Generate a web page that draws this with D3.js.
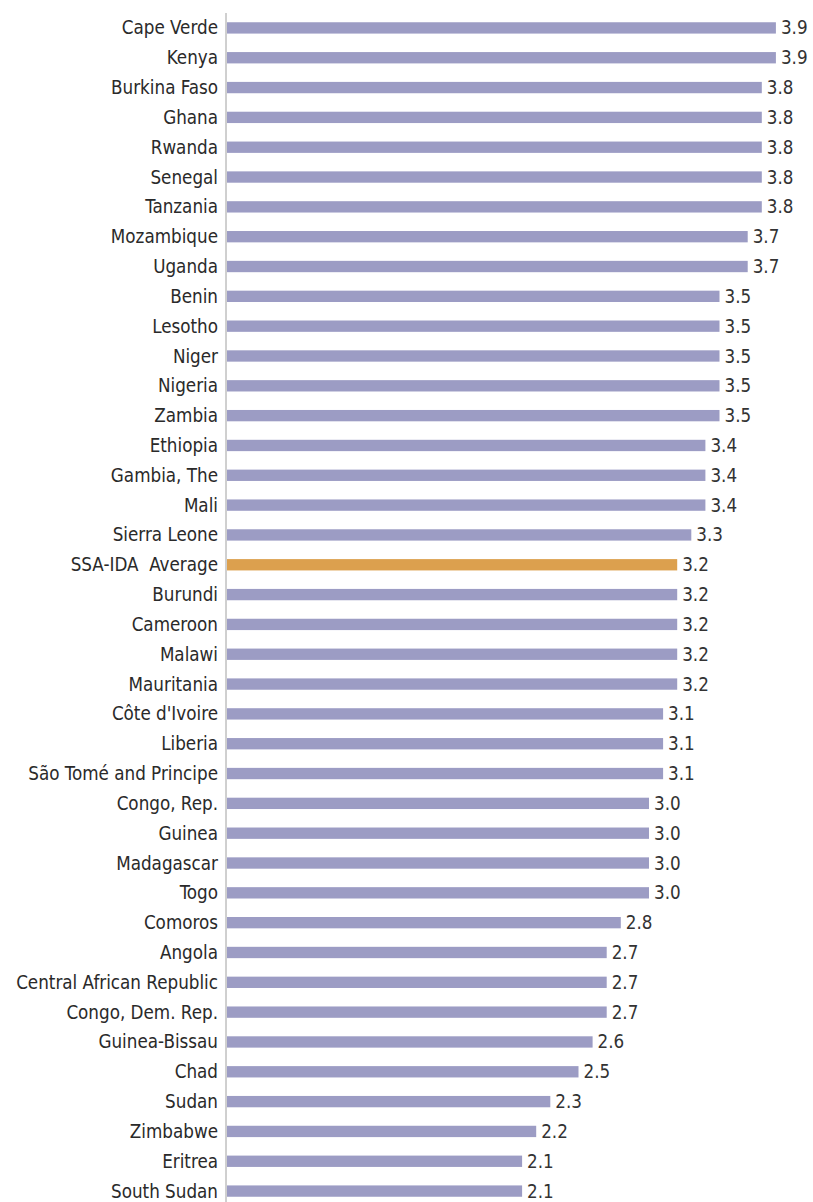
<!DOCTYPE html>
<html><head><meta charset="utf-8">
<script src="https://cdn.jsdelivr.net/npm/d3@7"></script>
<style>
html,body{margin:0;padding:0;background:#fff;}
text{font-family:"Liberation Sans Narrow","DejaVu Sans Condensed",sans-serif;white-space:pre;}
</style></head>
<body>
<svg id="chart" width="813" height="1202"></svg>
<script>
const categories = ["Cape Verde","Kenya","Burkina Faso","Ghana","Rwanda","Senegal","Tanzania","Mozambique","Uganda","Benin","Lesotho","Niger","Nigeria","Zambia","Ethiopia","Gambia, The","Mali","Sierra Leone","SSA-IDA  Average","Burundi","Cameroon","Malawi","Mauritania","Côte d'Ivoire","Liberia","São Tomé and Principe","Congo, Rep.","Guinea","Madagascar","Togo","Comoros","Angola","Central African Republic","Congo, Dem. Rep.","Guinea-Bissau","Chad","Sudan","Zimbabwe","Eritrea","South Sudan"];
const values = [3.9,3.9,3.8,3.8,3.8,3.8,3.8,3.7,3.7,3.5,3.5,3.5,3.5,3.5,3.4,3.4,3.4,3.3,3.2,3.2,3.2,3.2,3.2,3.1,3.1,3.1,3.0,3.0,3.0,3.0,2.8,2.7,2.7,2.7,2.6,2.5,2.3,2.2,2.1,2.1];
const highlight = "SSA-IDA  Average";

const svg = d3.select("#chart");
const x0 = 226;
const x = d3.scaleLinear().domain([0, 3.9]).range([x0, x0 + 141 * 3.9]);
const y = d3.scaleBand().domain(categories).range([13, 1206]).paddingInner(0.62).paddingOuter(0.31);

const data = categories.map((c,i)=>({c, v: values[i]}));

// fit font size so the longest label spans like the reference (~202px)
const probe = svg.append("text").attr("font-size", 20).text("Central African Republic");
const w20 = probe.node().getComputedTextLength();
probe.remove();
const fs = Math.min(21, 20 * 202 / w20);

svg.append("g").selectAll("rect").data(data).join("rect")
  .attr("x", x(0) + 1)
  .attr("y", d => y(d.c))
  .attr("width", d => x(d.v) - x(0) - 1)
  .attr("height", y.bandwidth())
  .attr("fill", d => d.c === highlight ? "#dca04e" : "#9c9cc4");

svg.append("line")
  .attr("x1", x0).attr("x2", x0)
  .attr("y1", 13).attr("y2", 1202)
  .attr("stroke", "#a0a0a0").attr("stroke-width", 1);

svg.append("g").selectAll("text").data(data).join("text")
  .attr("x", 218)
  .attr("y", d => y(d.c) + y.bandwidth()/2)
  .attr("dy", "0.35em")
  .attr("text-anchor", "end")
  .attr("font-size", fs)
  .attr("fill", "#2a2a2a")
  .text(d => d.c);

svg.append("g").selectAll("text").data(data).join("text")
  .attr("x", d => x(d.v) + 5)
  .attr("y", d => y(d.c) + y.bandwidth()/2)
  .attr("dy", "0.35em")
  .attr("font-size", fs)
  .attr("fill", "#333")
  .text(d => d3.format(".1f")(d.v));
</script>
</body></html>
